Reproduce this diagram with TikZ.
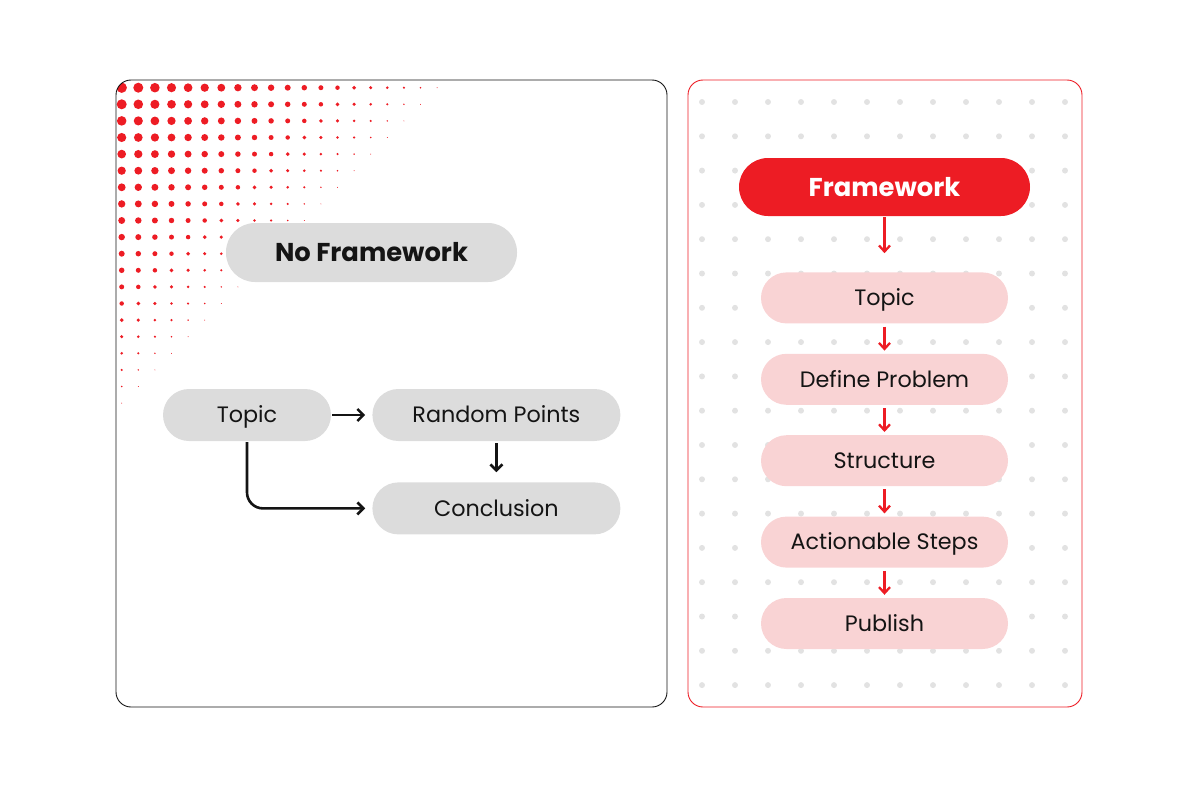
\documentclass[tikz,border=0pt]{standalone}
\usepackage{fontspec}
\setmainfont{Poppins}
\usepackage{xcolor}
\usetikzlibrary{arrows.meta, positioning}

\definecolor{fwred}{HTML}{ED1C24}
\definecolor{pillgray}{HTML}{DCDCDC}
\definecolor{pillpink}{HTML}{F9D3D4}
\definecolor{dotgray}{HTML}{E2E2E2}
\definecolor{ink}{HTML}{141414}

\begin{document}
\begin{tikzpicture}[
  x=1pt, y=-1pt,
  node distance=41pt,
  pill/.style={rectangle, rounded corners=26pt, minimum height=52pt, minimum width=248pt, inner sep=0pt, text height=15.6pt, text depth=0pt, fill=pillgray, text=ink, font=\fontsize{22.3}{26}\selectfont},
  titlepill/.style={pill, rounded corners=29pt, minimum height=59pt, minimum width=291pt, text height=18pt, font=\fontsize{25.8}{30}\selectfont\bfseries},
  pinkpill/.style={pill, fill=pillpink, rounded corners=25.5pt, minimum height=51pt, minimum width=247pt},
  arrow/.style={-{Straight Barb[length=6pt, width=12pt]}, line width=2.6pt, ink},
  redarrow/.style={-{Straight Barb[length=6pt, width=11pt]}, line width=2.3pt, fwred}
]
\useasboundingbox (0,0) rectangle (1200,800);

% halftone corner
\begin{scope}
  \clip[rounded corners=15pt] (116,80) rectangle (667,707);
  \foreach \i in {0,...,19}{
    \foreach \j in {0,...,19}{
      \pgfmathtruncatemacro\s{\i+\j}
      \ifnum\s<20
        \pgfmathsetmacro\r{5.2*(1-\s/20)^0.8}
        \fill[fwred] (121.7+16.6*\i, 87.7+16.6*\j) circle (\r pt);
      \fi
    }
  }
\end{scope}
\draw[line width=0.9pt, ink, rounded corners=15pt] (116,80) rectangle (667,707);

% dot grid
\foreach \i in {0,...,11}
  \foreach \j in {0,...,17}
    \fill[dotgray] (702+33*\i, 102+34.3*\j) circle (3pt);
\draw[line width=0.9pt, fwred, rounded corners=15pt] (688,80) rectangle (1082,707);

% left: no framework
\node[titlepill] (nofw) at (371.5,252.5) {No Framework};
\node[pill, minimum width=168pt] (topic) at (247,415) {Topic};
\node[pill, right=41pt of topic] (random) {Random Points};
\node[pill, below=41pt of random] (concl) {Conclusion};

\draw[arrow, shorten <=1pt, shorten >=7pt] (topic) -- (random);
\draw[arrow, shorten <=2pt, shorten >=10pt] (random) -- (concl);
\draw[arrow, rounded corners=16pt, shorten <=1pt, shorten >=7pt] (topic.south) |- (concl.west);

% right: framework
\node[titlepill, fill=fwred, text=white, minimum height=58pt] (fw) at (884.5,187) {Framework};
\node[pinkpill, below=56pt of fw] (rtopic) {Topic};
\node[pinkpill, below=30pt of rtopic] (define) {Define Problem};
\node[pinkpill, below=30pt of define] (struct) {Structure};
\node[pinkpill, below=30pt of struct] (steps) {Actionable Steps};
\node[pinkpill, below=30pt of steps] (publish) {Publish};

\draw[redarrow, shorten <=1pt, shorten >=19pt] (fw) -- (rtopic);
\foreach \a/\b in {rtopic/define, define/struct, struct/steps, steps/publish}
  \draw[redarrow, shorten <=3pt, shorten >=3pt] (\a) -- (\b);
\end{tikzpicture}
\end{document}
